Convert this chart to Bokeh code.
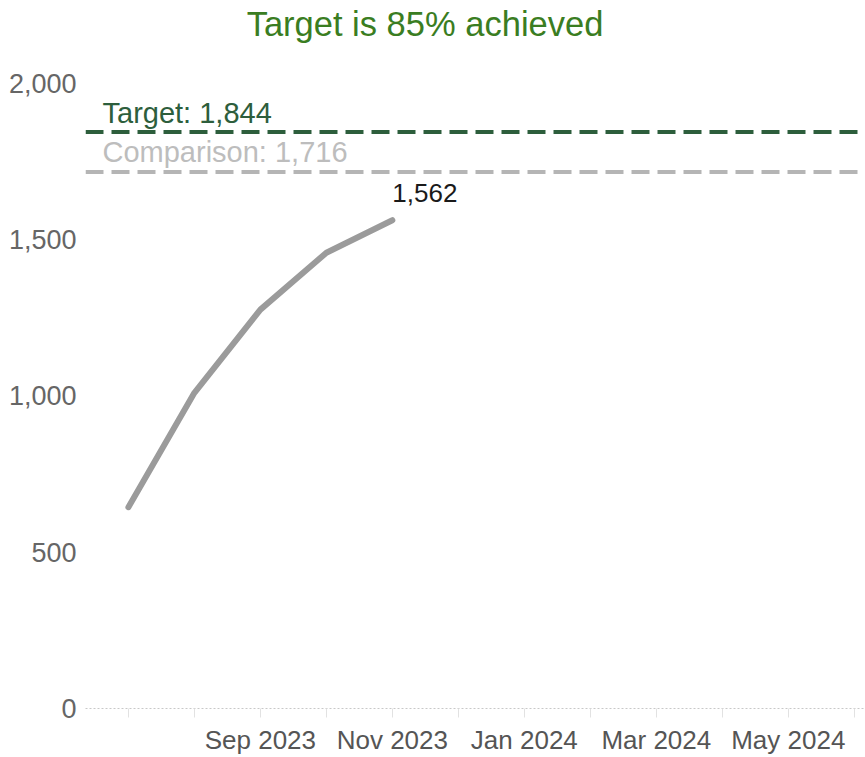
from bokeh.plotting import figure
from bokeh.models import (Range1d, LinearAxis, FixedTicker, NumeralTickFormatter,
                          Span, Label, ColumnDataSource)
from bokeh.embed import file_html
from bokeh.resources import INLINE

# ---- data ----
axis_months = ["Jul 2023", "Aug 2023", "Sep 2023", "Oct 2023", "Nov 2023", "Dec 2023",
               "Jan 2024", "Feb 2024", "Mar 2024", "Apr 2024", "May 2024", "Jun 2024"]
labelled_months = ["Sep 2023", "Nov 2023", "Jan 2024", "Mar 2024", "May 2024"]
months = ["Jul 2023", "Aug 2023", "Sep 2023", "Oct 2023", "Nov 2023"]
values = [644, 1010, 1276, 1458, 1562]
target = 1844
comparison = 1716
y_ticks = [0, 500, 1000, 1500, 2000]
title_text = "Target is 85% achieved"

FONT = "Liberation Sans"
Y_MAX = 2265   # top of the plotting area (leaves room for the title)

x_idx = [axis_months.index(m) for m in months]
src = ColumnDataSource(dict(x=x_idx, y=values, month=months))

p = figure(width=865, height=757, output_backend="svg", toolbar_location=None,
           x_axis_type=None, y_axis_type=None,
           x_range=Range1d(-0.65, 11.17), y_range=Range1d(0, Y_MAX),
           min_border_left=85, min_border_right=0, min_border_top=0, min_border_bottom=49)
p.outline_line_color = None
p.background_fill_color = "white"
p.border_fill_color = "white"

# title (centred text at the top of the chart)
p.add_layout(Label(x=339.5, x_units="screen", y=Y_MAX, y_offset=-23,
                   text=title_text, text_font=FONT, text_font_size="34.5px",
                   text_color="#3a7d22", text_align="center", text_baseline="middle"))

# y axis
yaxis = LinearAxis(ticker=FixedTicker(ticks=y_ticks),
                   formatter=NumeralTickFormatter(format="0,0"))
yaxis.axis_line_color = None
yaxis.major_tick_line_color = None
yaxis.minor_tick_line_color = None
yaxis.major_tick_in = 0
yaxis.major_tick_out = 0
yaxis.major_label_text_font = FONT
yaxis.major_label_text_font_size = "27px"
yaxis.major_label_text_color = "#666666"
yaxis.major_label_standoff = 9
p.add_layout(yaxis, "left")

# x axis (dotted baseline, monthly ticks, every other month labelled)
xaxis = LinearAxis(ticker=FixedTicker(ticks=list(range(len(axis_months)))))
xaxis.major_label_overrides = {i: (m if m in labelled_months else "")
                               for i, m in enumerate(axis_months)}
xaxis.axis_line_color = "#c8c8c8"
xaxis.axis_line_dash = "2 2"
xaxis.axis_line_width = 1
xaxis.major_tick_line_color = "#e2e2e2"
xaxis.major_tick_in = 0
xaxis.major_tick_out = 9
xaxis.minor_tick_line_color = None
xaxis.major_label_text_font = FONT
xaxis.major_label_text_font_size = "26px"
xaxis.major_label_text_color = "#555555"
xaxis.major_label_standoff = 7
p.add_layout(xaxis, "below")

# grid
p.ygrid.grid_line_color = "#ececec"
p.ygrid.ticker = FixedTicker(ticks=[t for t in y_ticks if t > 0])
p.xgrid.grid_line_color = None
p.grid.grid_line_width = 1

# reference lines
p.add_layout(Span(location=target, dimension="width", line_color="#2d5e3c",
                  line_width=4, line_dash="18 8"))
p.add_layout(Span(location=comparison, dimension="width", line_color="#b5b5b5",
                  line_width=4, line_dash="18 8"))

p.add_layout(Label(x=17, x_units="screen", y=target, y_offset=19,
                   text=f"Target: {target:,}", text_font=FONT, text_font_size="29px",
                   text_color="#2d5e3c", text_baseline="middle"))
p.add_layout(Label(x=17, x_units="screen", y=comparison, y_offset=20,
                   text=f"Comparison: {comparison:,}", text_font=FONT, text_font_size="29px",
                   text_color="#bdbdbd", text_baseline="middle"))

# main line
p.line("x", "y", source=src, line_color="#9b9b9b", line_width=6, line_cap="round",
       line_join="round")

p.add_layout(Label(x=x_idx[-1], y=values[-1], x_offset=0, y_offset=27,
                   text=f"{values[-1]:,}", text_font=FONT, text_font_size="26px",
                   text_color="#1a1a1a", text_baseline="middle", text_align="left"))

open("out.html", "w").write(file_html(p, INLINE))
